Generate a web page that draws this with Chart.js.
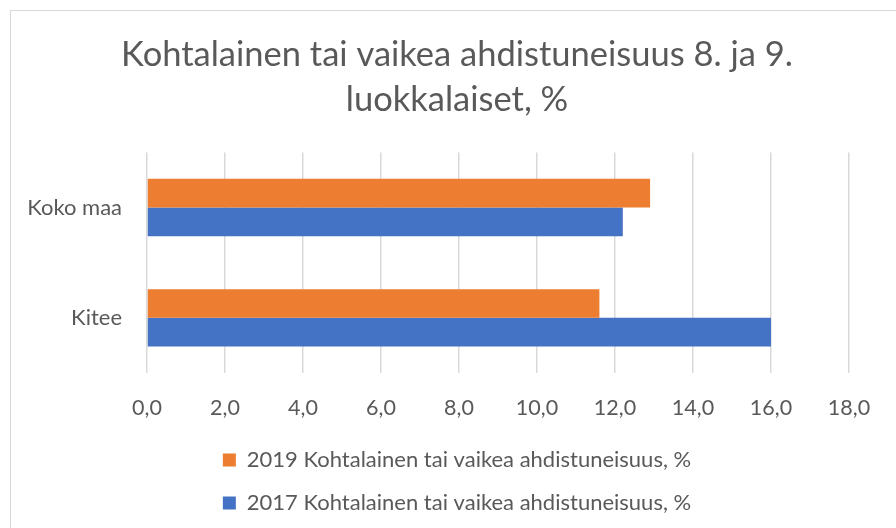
<!DOCTYPE html>
<html>
<head>
<meta charset="utf-8">
<script src="https://cdn.jsdelivr.net/npm/chart.js@4/dist/chart.umd.min.js"></script>
<style>
  html, body { margin: 0; padding: 0; background: #fff; }
  #wrap { position: relative; width: 896px; height: 528px; overflow: hidden; }
  #frame { position: absolute; left: 10px; top: 10px; width: 900px; height: 540px; border: 1.5px solid #d9d9d9; box-sizing: border-box; }
  canvas { position: absolute; left: 0; top: 0; }
</style>
</head>
<body>
<div id="wrap">
  <div id="frame"></div>
  <canvas id="chart" width="896" height="528"></canvas>
</div>
<script>
const categories = ['Koko maa', 'Kitee'];
const values2019 = [12.9, 11.6];
const values2017 = [12.2, 16.0];
const seriesNames = [
    '2019 Kohtalainen tai vaikea ahdistuneisuus, %',
    '2017 Kohtalainen tai vaikea ahdistuneisuus, %'
];
const titleLines = ['Kohtalainen tai vaikea ahdistuneisuus 8. ja 9.', 'luokkalaiset, %'];

const FONT = 'Lato, "Open Sans", sans-serif';
const GREY = '#595959';

const ctx = document.getElementById('chart').getContext('2d');
new Chart(ctx, {
    type: 'bar',
    data: {
        labels: categories,
        datasets: [
            { label: seriesNames[0], data: values2019, backgroundColor: '#ED7D31' },
            { label: seriesNames[1], data: values2017, backgroundColor: '#4472C4' }
        ]
    },
    options: {
        indexAxis: 'y',
        responsive: false,
        animation: false,
        devicePixelRatio: 1,
        categoryPercentage: 0.52,
        barPercentage: 1,
        layout: { padding: { top: 10, left: 20, right: 2, bottom: 4 } },
        plugins: {
            title: {
                display: true,
                text: titleLines,
                color: GREY,
                font: { family: FONT, size: 34.5, weight: 'normal', lineHeight: 1.31 },
                padding: { top: 22, bottom: 30 }
            },
            legend: {
                position: 'bottom',
                labels: {
                    color: GREY,
                    font: { family: FONT, size: 22 },
                    boxWidth: 13,
                    boxHeight: 13,
                    padding: 21
                }
            },
            tooltip: { enabled: false }
        },
        scales: {
            x: {
                min: 0,
                max: 18,
                afterFit: scale => { scale.height = 55; },
                ticks: {
                    stepSize: 2,
                    color: GREY,
                    font: { family: FONT, size: 21.5 },
                    padding: 22,
                    callback: v => v.toFixed(1).replace('.', ',')
                },
                grid: { color: '#d9d9d9', lineWidth: 1.5, drawTicks: false },
                border: { display: false }
            },
            y: {
                afterFit: scale => { scale.width = 127; },
                ticks: {
                    color: GREY,
                    font: { family: FONT, size: 22 },
                    padding: 17
                },
                grid: { display: false },
                border: { display: false }
            },
            // empty right-hand axis, only keeps the plot's right edge in place
            yRight: {
                type: 'category',
                position: 'right',
                afterFit: scale => { scale.width = 45; },
                ticks: { display: false },
                grid: { display: false },
                border: { display: false }
            }
        }
    }
});
</script>
</body>
</html>
